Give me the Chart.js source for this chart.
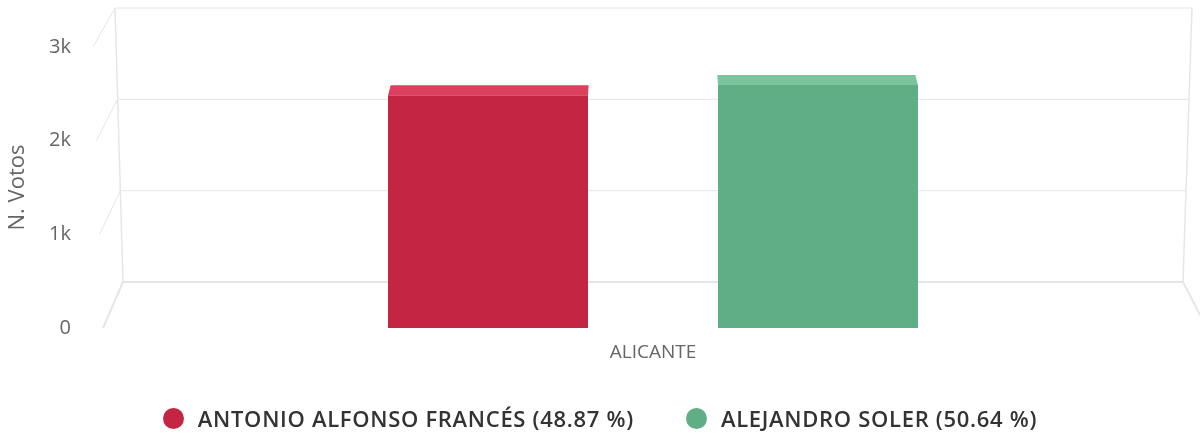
<!DOCTYPE html>
<html>
<head>
<meta charset="utf-8">
<script src="https://cdn.jsdelivr.net/npm/chart.js@4/dist/chart.umd.min.js"></script>
<style>
  html, body { margin: 0; padding: 0; background: #fff; }
  #wrap { position: relative; width: 1200px; height: 437px; overflow: hidden; }
  #c { position: absolute; left: 0; top: 0; }
  #legend { position: absolute; left: 0; top: 404px; width: 1200px; display: flex; justify-content: center;
            font-family: "Open Sans", sans-serif; font-size: 22px; font-weight: 600; letter-spacing: 0.7px; color: #333; line-height: 28px; }
  .item { display: flex; align-items: center; margin: 0 26px; }
  .dot { width: 21px; height: 21px; border-radius: 50%; margin-right: 14px; }
</style>
</head>
<body>
<div id="wrap">
  <canvas id="c" width="1200" height="437"></canvas>
  <div id="legend"></div>
</div>
<script>
const categories = ['ALICANTE'];
const candidates = ['ANTONIO ALFONSO FRANCÉS', 'ALEJANDRO SOLER'];
const votes = [2485, 2595];
const percents = [48.87, 50.64];
const yTickValues = [0, 1000, 2000, 3000];
const yTickLabels = ['0', '1k', '2k', '3k'];
const yTitle = 'N. Votos';
const frontColors = ['#c42542', '#60ae86'];
const topColors = ['#dd405c', '#7ac59c'];

const FONT = '"Open Sans", sans-serif';

const legendLabels = candidates.map((n, i) => n + ' (' + percents[i].toFixed(2) + ' %)');

const frame3d = {
  id: 'frame3d',
  beforeDatasetsDraw(chart) {
    const { ctx, chartArea: { left, right, bottom }, scales: { y } } = chart;
    const k = 0.975, drop = 46;
    const bY = v => (bottom - drop) + (y.getPixelForValue(v) - bottom) * k;
    const f = v => v / y.max;
    const backL = v => left + 17 - 8 * f(v);
    const backR = v => right - 17 + 9 * f(v);
    const frontL = v => left - 3 - 10 * f(v);
    ctx.save();
    ctx.strokeStyle = '#e6e6e6';
    yTickValues.forEach(v => {
      ctx.lineWidth = v === 0 ? 2 : 1;
      ctx.beginPath();
      ctx.moveTo(backL(v), bY(v));
      ctx.lineTo(backR(v), bY(v));
      ctx.stroke();
      ctx.beginPath();
      ctx.moveTo(frontL(v), y.getPixelForValue(v));
      ctx.lineTo(backL(v), bY(v));
      ctx.stroke();
    });
    const vmax = y.max;
    ctx.lineWidth = 1.5;
    ctx.beginPath();
    ctx.moveTo(backL(0), bY(0)); ctx.lineTo(backL(vmax), bY(vmax));
    ctx.moveTo(backR(0), bY(0)); ctx.lineTo(backR(vmax), bY(vmax));
    ctx.stroke();
    ctx.lineWidth = 2;
    ctx.beginPath();
    ctx.moveTo(backR(0), bY(0)); ctx.lineTo(right + 7, bottom);
    ctx.stroke();
    ctx.restore();
  },
  afterDatasetsDraw(chart) {
    const { ctx, chartArea: { left, right } } = chart;
    const cx = (left + right) / 2, s = 0.99, depth = 10;
    ctx.save();
    chart.data.datasets.forEach((ds, i) => {
      chart.getDatasetMeta(i).data.forEach(bar => {
        const { x, y, width } = bar.getProps(['x', 'y', 'width'], true);
        const l = x - width / 2, r = x + width / 2;
        const bl = cx + (l - cx) * s, br = cx + (r - cx) * s;
        ctx.fillStyle = topColors[i];
        ctx.beginPath();
        ctx.moveTo(l, y); ctx.lineTo(r, y); ctx.lineTo(br, y - depth); ctx.lineTo(bl, y - depth);
        ctx.closePath();
        ctx.fill();
      });
    });
    ctx.restore();
  }
};

new Chart(document.getElementById('c'), {
  type: 'bar',
  data: {
    labels: categories,
    datasets: candidates.map((n, i) => ({
      label: legendLabels[i],
      data: [votes[i]],
      backgroundColor: frontColors[i],
      borderWidth: 0,
      barPercentage: 0.606,
      categoryPercentage: 0.6033
    }))
  },
  options: {
    responsive: false,
    animation: false,
    devicePixelRatio: 1,
    layout: { padding: { top: 47, right: 0, bottom: 60, left: 0 } },
    plugins: { legend: { display: false }, tooltip: { enabled: false } },
    scales: {
      x: {
        grid: { display: false, drawTicks: false },
        border: { display: false },
        ticks: { color: '#666', font: { family: FONT, size: 19 }, padding: 13 },
        afterFit(scale) { scale.height = 49; }
      },
      y: {
        min: 0, max: 3000,
        grid: { display: false, drawTicks: false },
        border: { display: false },
        afterBuildTicks(scale) { scale.ticks = yTickValues.map(v => ({ value: v })); },
        ticks: {
          color: '#666', font: { family: FONT, size: 20 }, padding: 35,
          callback: (v) => yTickLabels[yTickValues.indexOf(v)]
        },
        title: { display: true, text: yTitle, color: '#666', font: { family: FONT, size: 22 }, padding: { top: 5, bottom: 0 } },
        afterFit(scale) { scale.width = 106; }
      }
    }
  },
  plugins: [frame3d]
});

const leg = document.getElementById('legend');
legendLabels.forEach((t, i) => {
  const it = document.createElement('div');
  it.className = 'item';
  const d = document.createElement('span');
  d.className = 'dot';
  d.style.background = frontColors[i];
  const s = document.createElement('span');
  s.textContent = t;
  it.appendChild(d); it.appendChild(s);
  leg.appendChild(it);
});
</script>
</body>
</html>
